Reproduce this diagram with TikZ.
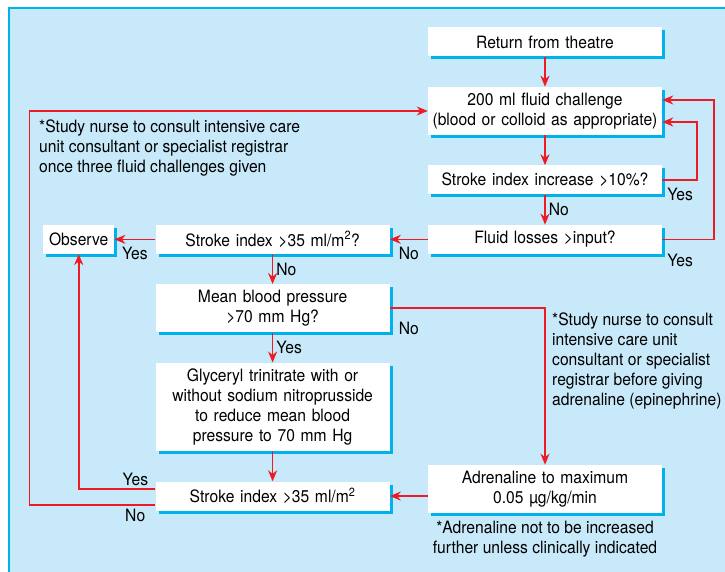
\documentclass[tikz,border=0pt]{standalone}
\usepackage{fontspec}
\setmainfont{TeX Gyre Heros}[FakeStretch=0.92]
\usetikzlibrary{positioning,shadows,arrows.meta}
\definecolor{FlowRed}{HTML}{ED1C24}
\definecolor{FlowSky}{HTML}{C8E9F9}
\definecolor{FlowCyan}{HTML}{00B2EC}

\begin{document}
\begin{tikzpicture}[x=1pt,y=-1pt,>={Stealth[length=11pt,width=9pt,inset=3.5pt]},
    node distance=30pt and 38pt,font=\fontsize{17}{20}\selectfont]
  \tikzstyle{stepbox}=[fill=white,inner xsep=2pt,inner ysep=6pt,
    minimum height=29pt,text width=230pt,align=center,
    general shadow={fill=FlowCyan,shadow xshift=3pt,shadow yshift=-3pt}]
  \tikzstyle{flow}=[->,line width=1.7pt,color=FlowRed]
  \tikzstyle{lbl}=[inner sep=1pt,text=black]
  \tikzstyle{remark}=[inner sep=0pt,align=left]
  % panel
  \useasboundingbox (0,0) rectangle (725,572);
  \fill[FlowSky] (9,8) rectangle (725,572);
  \draw[FlowCyan,line width=1.5pt] (9,572) -- (9,8) -- (725,8);
  % boxes
  \node[stepbox] (ret) at (545,42) {Return from theatre};
  \node[stepbox,below=of ret] (chal) {200 ml fluid challenge\\(blood or colloid as appropriate)};
  \node[stepbox,below=of chal] (incr) {Stroke index increase >10\%?};
  \node[stepbox,below=of incr] (loss) {Fluid losses >input?};
  \node[stepbox,left=of loss] (sia) {Stroke index >35 ml/m\textsuperscript{2}?};
  \node[stepbox,text width=67pt,left=41pt of sia] (obs) {Observe};
  \node[stepbox,below=of sia] (mbp) {Mean blood pressure\\>70 mm Hg?};
  \node[stepbox,below=of mbp] (gtn) {Glyceryl trinitrate with or\\without sodium nitroprusside\\to reduce mean blood\\pressure to 70 mm Hg};
  \node[stepbox,below=of gtn] (sib) {Stroke index >35 ml/m\textsuperscript{2}};
  \node[stepbox] (adr) at (545,489) {Adrenaline to maximum\\0.05 µg/kg/min};
  % notes
  \node[remark,anchor=north west] (nfluid) at (39,120) {*Study nurse to consult intensive care\\unit consultant or specialist registrar\\once three fluid challenges given};
  \node[remark,anchor=north west] (nadr) at (552,313) {*Study nurse to consult\\intensive care unit\\consultant or specialist\\registrar before giving\\adrenaline (epinephrine)};
  \node[remark,align=center,below=8pt of adr] (nmax) {*Adrenaline not to be increased\\further unless clinically indicated};
  % connectors
  \draw[flow] (ret) -- (chal);
  \draw[flow] (chal) -- (incr);
  \draw[flow] (incr) -- node[lbl,right=2pt] {No} (loss);
  \draw[flow] (incr.east) -- ++(35,0) |- ([yshift=-11pt]chal.east);
  \node[lbl,anchor=west] at ([xshift=4pt]incr.south east) {Yes};
  \draw[flow] (loss.east) -- ++(52,0) |- ([yshift=11pt]chal.east);
  \node[lbl,anchor=west] at ([xshift=4pt,yshift=-6pt]loss.south east) {Yes};
  \draw[flow] (loss) -- node[lbl,below=6pt] {No} (sia);
  \draw[flow] (sia) -- node[lbl,below=6pt] {Yes} (obs);
  \draw[flow] (sia) -- node[lbl,right=2pt] {No} (mbp);
  \draw[flow] (mbp) -- node[lbl,right=2pt] {Yes} (gtn);
  \draw[flow] (mbp.east) -| (adr.north);
  \node[lbl] at ([xshift=19pt,yshift=-20pt]mbp.east) {No};
  \draw[flow] (gtn) -- (sib);
  \draw[flow] (adr.west |- sib) -- (sib);
  \draw[flow] ([yshift=7pt]sib.west) -| (obs);
  \node[lbl,anchor=south east] at ([xshift=-6pt,yshift=9pt]sib.west) {Yes};
  \draw[flow] ([yshift=-9pt]sib.west) -- ++(-126,0) |- (chal.west);
  \node[lbl,anchor=north east] at ([xshift=-9pt,yshift=-12pt]sib.west) {No};
\end{tikzpicture}
\end{document}
